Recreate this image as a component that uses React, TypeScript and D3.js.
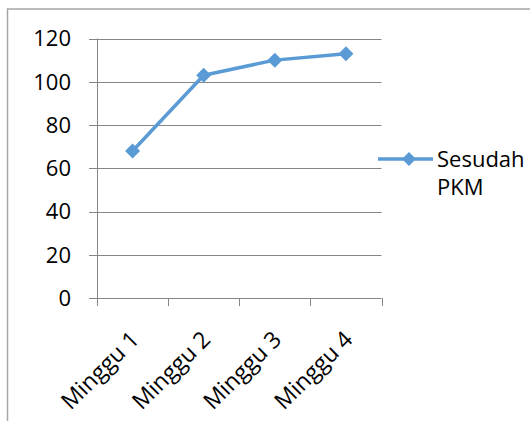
import React from "react";
import * as d3 from "d3";

const categories = ["Minggu 1", "Minggu 2", "Minggu 3", "Minggu 4"];
const values = [68, 103, 110, 113];
const yTicks = [0, 20, 40, 60, 80, 100, 120];
const seriesName = ["Sesudah", "PKM"];

export default function App() {
  const W = 530, H = 421;
  const x0 = 97, x1 = 381.5, yTop = 38.5, yBot = 298;
  const x = d3.scaleBand<string>().domain(categories).range([x0, x1]);
  const y = d3.scaleLinear().domain([0, 120]).range([yBot, yTop]);
  const color = "#5B9BD5";
  const font = "'Open Sans', sans-serif";
  const line = d3
    .line<number>()
    .x((_, i) => (x(categories[i]) as number) + x.bandwidth() / 2)
    .y((d) => y(d));
  const diamond = (cx: number, cy: number, r: number) =>
    `M${cx},${cy - r}L${cx + r},${cy}L${cx},${cy + r}L${cx - r},${cy}Z`;
  const boundaries = [...categories.map((c) => x(c) as number), x1];
  return (
    <svg
      width={W}
      height={H}
      style={{ position: "absolute", left: 0, top: 0, background: "#fff" }}
    >
      <rect x={7.5} y={9} width={W + 20} height={H + 20} fill="#fff" stroke="#a6a6a6" strokeWidth={1.5} />
      {yTicks.map((t) => (
        <g key={t}>
          <line x1={89} x2={x1} y1={Math.round(y(t)) + 0.5} y2={Math.round(y(t)) + 0.5} stroke="#868686" strokeWidth={1} />
          <text x={71} y={y(t)} dy="0.36em" textAnchor="end" fontFamily={font} fontSize={22} fill="#000">
            {t}
          </text>
        </g>
      ))}
      <line x1={x0 + 0.5} x2={x0 + 0.5} y1={yTop} y2={yBot + 8} stroke="#868686" strokeWidth={1} />
      {boundaries.map((b, i) => (
        <line key={i} x1={Math.round(b) + 0.5} x2={Math.round(b) + 0.5} y1={yBot} y2={yBot + 8} stroke="#868686" strokeWidth={1} />
      ))}
      {categories.map((c) => {
        const cx = (x(c) as number) + x.bandwidth() / 2 + 8;
        const cy = 341;
        return (
          <text
            key={c}
            x={cx}
            y={cy}
            textAnchor="end"
            transform={`rotate(-45,${cx},${cy})`}
            fontFamily={font}
            fontSize={23}
            fill="#000"
          >
            {c}
          </text>
        );
      })}
      <path d={line(values) || ""} fill="none" stroke={color} strokeWidth={3.5} strokeLinejoin="round" />
      {values.map((v, i) => (
        <path
          key={i}
          d={diamond((x(categories[i]) as number) + x.bandwidth() / 2, y(v), 7.5)}
          fill={color}
        />
      ))}
      <line x1={378} x2={433} y1={159} y2={159} stroke={color} strokeWidth={3.5} />
      <path d={diamond(409, 159, 7)} fill={color} />
      <text x={437} y={167} fontFamily={font} fontSize={22} fill="#000">
        {seriesName[0]}
      </text>
      <text x={437} y={195} fontFamily={font} fontSize={22} fill="#000">
        {seriesName[1]}
      </text>
    </svg>
  );
}
